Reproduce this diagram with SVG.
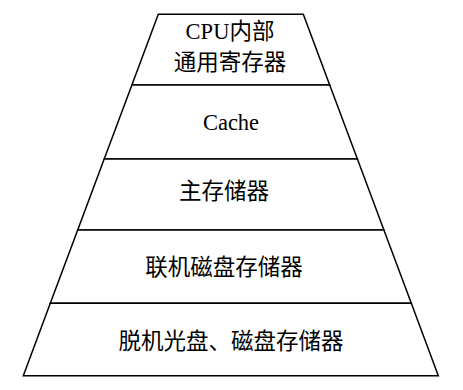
<svg xmlns="http://www.w3.org/2000/svg" width="463" height="390" viewBox="0 0 463 390">
<style>
.tier{fill:#fff;stroke:#000;stroke-width:1.5;stroke-linejoin:miter}
.lbl{font-family:'Liberation Serif','Noto Sans CJK SC',serif;font-size:22.5px;fill:#000;text-anchor:middle}
</style>
<rect width="463" height="390" fill="#fff"/>
<g id="tier1">
<polygon class="tier" points="158.3,14.3 303.3,14.3 329.7,85 131.9,85"/>
<text class="lbl" x="230" y="39">CPU内部</text>
<text class="lbl" x="230" y="70">通用寄存器</text>
</g>
<g id="tier2">
<polygon class="tier" points="131.9,85 329.7,85 357.4,159 104.2,159"/>
<text class="lbl" x="231" y="129.5">Cache</text>
</g>
<g id="tier3">
<polygon class="tier" points="104.2,159 357.4,159 383.9,230 77.7,230"/>
<text class="lbl" x="224" y="198.5">主存储器</text>
</g>
<g id="tier4">
<polygon class="tier" points="77.7,230 383.9,230 411.3,303.3 50.3,303.3"/>
<text class="lbl" x="224" y="275">联机磁盘存储器</text>
</g>
<g id="tier5">
<polygon class="tier" points="50.3,303.3 411.3,303.3 438.3,375.7 23.3,375.7"/>
<text class="lbl" x="231" y="348.5">脱机光盘、磁盘存储器</text>
</g>
<g id="connectors"></g>
</svg>
